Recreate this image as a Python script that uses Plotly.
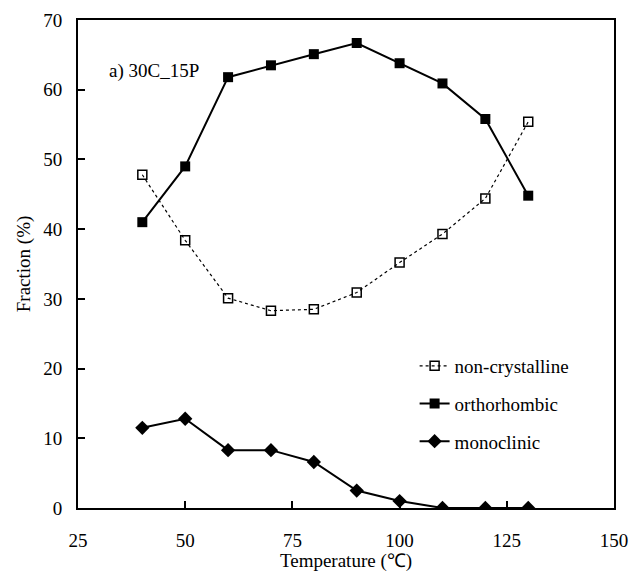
import plotly.graph_objects as go

temperature = [40, 50, 60, 70, 80, 90, 100, 110, 120, 130]
non_crystalline = [47.8, 38.4, 30.1, 28.3, 28.5, 30.9, 35.2, 39.3, 44.4, 55.4]
orthorhombic = [41.0, 49.0, 61.8, 63.5, 65.1, 66.7, 63.8, 60.9, 55.8, 44.8]
monoclinic = [11.5, 12.8, 8.3, 8.3, 6.6, 2.5, 1.0, 0.0, 0.0, 0.0]

FONT = "Liberation Serif"

fig = go.Figure()
fig.add_trace(go.Scatter(
    x=temperature, y=non_crystalline, name="non-crystalline", legendgroup="a",
    mode="lines+markers",
    line=dict(color="black", width=1.2, dash="dot"),
    marker=dict(symbol="square-open", size=9, color="black", line=dict(width=1.5, color="black")),
))
fig.add_trace(go.Scatter(
    x=temperature, y=orthorhombic, name="orthorhombic", legendgroup="b",
    mode="lines+markers",
    line=dict(color="black", width=2),
    marker=dict(symbol="square", size=10, color="black"),
))
fig.add_trace(go.Scatter(
    x=temperature, y=monoclinic, name="monoclinic", legendgroup="c",
    mode="lines+markers",
    line=dict(color="black", width=2),
    marker=dict(symbol="diamond", size=11, color="black"),
))

axis_common = dict(
    showline=True, linecolor="black", linewidth=2, mirror=True,
    ticks="inside", ticklen=7, tickwidth=2, tickcolor="black",
    showgrid=False, zeroline=False, automargin=False,
    tickfont=dict(family=FONT, size=19, color="black"),
    title_font=dict(family=FONT, size=19, color="black"),
)

fig.update_xaxes(range=[25, 150], tickvals=[25, 50, 75, 100, 125, 150],
                 title_text="Temperature (℃)", ticklabelstandoff=14, title_standoff=3,
                 **axis_common)
fig.update_yaxes(range=[0, 70], tickvals=[0, 10, 20, 30, 40, 50, 60, 70],
                 title_text="Fraction (%)", ticklabelstandoff=10, title_standoff=8,
                 **axis_common)

fig.add_annotation(x=0.055, y=0.895, xref="paper", yref="paper", text="a) 30C_15P",
                   showarrow=False, xanchor="left", yanchor="middle",
                   font=dict(family=FONT, size=19, color="black"))

fig.update_layout(
    width=632, height=572,
    margin=dict(l=78, r=18, t=20, b=64),
    plot_bgcolor="white", paper_bgcolor="white",
    showlegend=True,
    legend=dict(x=0.628, y=0.33, xanchor="left", yanchor="top",
                bgcolor="rgba(0,0,0,0)", tracegroupgap=10,
                font=dict(family=FONT, size=19, color="black")),
    font=dict(family=FONT, color="black"),
)

fig.write_html("out.html")
